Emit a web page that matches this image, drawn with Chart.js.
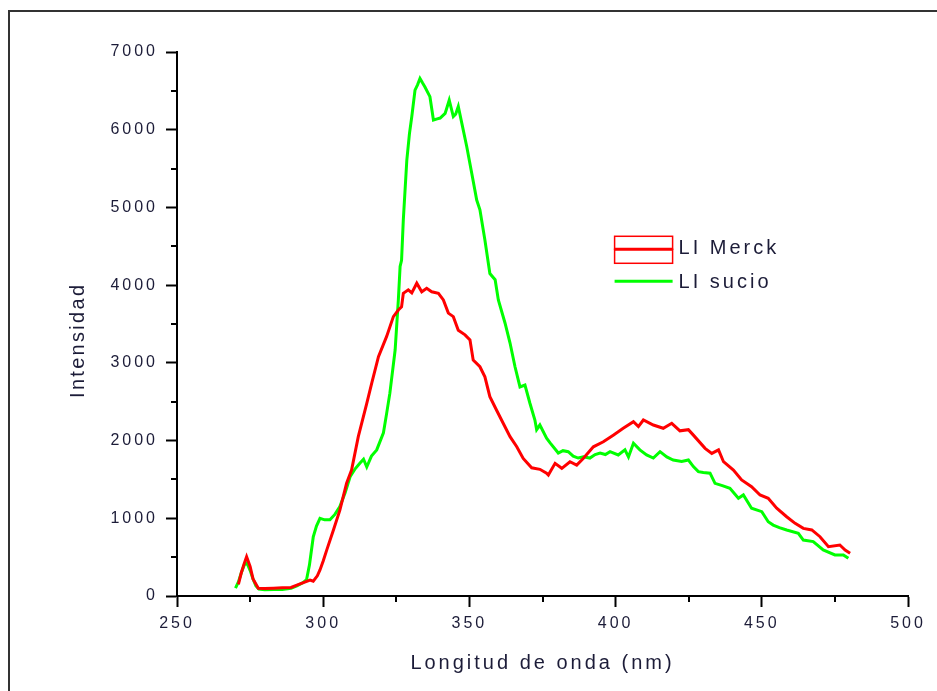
<!DOCTYPE html>
<html>
<head>
<meta charset="utf-8">
<script src="https://cdn.jsdelivr.net/npm/chart.js@4.4.1/dist/chart.umd.min.js"></script>
<style>
  html, body { margin: 0; padding: 0; background: #fff; }
  #wrap { position: relative; width: 937px; height: 691px; }
</style>
</head>
<body>
<div id="wrap"><canvas id="c" width="937" height="691"></canvas></div>
<script>
// ---- data ----
const seriesLabels = ["LI Merck", "LI sucio"];
const xTickValues = [250, 300, 350, 400, 450, 500];
const yTickValues = [0, 1000, 2000, 3000, 4000, 5000, 6000, 7000];

const merckWavelength = [271, 272, 273, 273.8, 275, 276, 277.8, 280, 283, 286, 289, 291, 293, 295.5, 296.6, 298, 298.9, 300, 301.2, 303.5, 305.7, 308, 309.7, 312, 314.9, 316.6, 318.9, 321.7, 324, 325.7, 326.8, 327.4, 329.1, 330.3, 332, 333.7, 335.4, 337.1, 339.4, 341.1, 342.8, 344.5, 346.2, 348.5, 350.2, 351.3, 353.6, 355.3, 357, 359.3, 361.6, 363.9, 366.2, 368.4, 371.3, 374.1, 376.4, 377, 379.3, 381.6, 384.4, 386.7, 389, 392.4, 395.8, 399.2, 402.6, 406.1, 407.8, 409.5, 412.9, 416.3, 419.2, 422, 424.9, 426.6, 430.6, 432.9, 435.2, 436.9, 440.3, 443.1, 446.5, 449.4, 452.2, 455.1, 458.5, 461.4, 464.2, 467.1, 469.9, 472.8, 476.7, 478.5, 480.2];
const merckIntensity = [150, 300, 420, 506, 380, 220, 100, 95, 100, 105, 110, 140, 170, 206, 190, 260, 335, 450, 590, 850, 1105, 1450, 1620, 2050, 2480, 2740, 3080, 3340, 3595, 3680, 3720, 3895, 3940, 3900, 4025, 3915, 3960, 3915, 3895, 3810, 3640, 3595, 3420, 3360, 3295, 3035, 2950, 2820, 2565, 2390, 2220, 2050, 1920, 1770, 1650, 1630, 1580, 1557, 1707, 1643, 1728, 1685, 1772, 1920, 1985, 2070, 2158, 2243, 2180, 2265, 2200, 2158, 2222, 2125, 2140, 2070, 1900, 1835, 1880, 1728, 1620, 1493, 1406, 1300, 1257, 1130, 1020, 935, 870, 850, 763, 635, 656, 592, 550];

const sucioWavelength = [270, 271, 272, 273, 273.9, 275, 276, 277, 278, 280, 283, 286, 289, 291, 293, 294.3, 295.3, 296.6, 297.7, 298.9, 300.5, 302.3, 304, 305.7, 307.5, 309.2, 311, 312.6, 313.8, 314.9, 316.5, 318.3, 320.6, 321.7, 322.8, 324.6, 325.7, 326.3, 326.8, 327.4, 328.6, 329.5, 330.3, 331.4, 332.3, 333.1, 334, 334.8, 336.5, 337.7, 339, 340, 341.7, 343.1, 344.5, 345.3, 346.2, 347.4, 349.1, 350.8, 352.5, 353.6, 355.3, 357, 358.8, 359.9, 362.2, 363.9, 365.6, 367.3, 369, 370.7, 372.4, 373, 374.1, 376.4, 377.6, 380.4, 382, 383.8, 385.5, 387.2, 389, 391.2, 393, 394.7, 396.5, 398.1, 400.9, 403.2, 404.4, 406.1, 408.3, 410.6, 412.9, 415.2, 417.5, 419.7, 422.6, 424.9, 426.6, 428.3, 430, 432.3, 434, 436.5, 439.1, 442, 443.7, 446.5, 450, 452.2, 453.9, 456, 458.5, 462.5, 464.2, 467.6, 471, 475, 477.9, 479.6];
const sucioIntensity = [100, 180, 300, 400, 425, 330, 220, 130, 90, 80, 85, 85, 100, 130, 170, 210, 400, 760, 900, 1000, 980, 980, 1050, 1150, 1330, 1535, 1640, 1710, 1760, 1660, 1800, 1880, 2100, 2350, 2610, 3165, 3810, 4240, 4320, 4840, 5610, 5950, 6170, 6510, 6580, 6660, 6600, 6550, 6425, 6125, 6140, 6150, 6210, 6380, 6170, 6200, 6300, 6085, 5780, 5440, 5095, 4970, 4580, 4150, 4070, 3810, 3510, 3255, 2950, 2690, 2715, 2480, 2265, 2140, 2200, 2030, 1970, 1840, 1870, 1857, 1800, 1775, 1790, 1775, 1820, 1840, 1820, 1857, 1815, 1880, 1790, 1965, 1880, 1815, 1775, 1857, 1790, 1750, 1730, 1750, 1665, 1600, 1590, 1580, 1450, 1420, 1385, 1257, 1300, 1130, 1085, 955, 913, 880, 850, 807, 720, 700, 592, 528, 528, 485];

const xTitle = "Longitud de onda (nm)";
const yTitle = "Intensidad";

// ---- build chart ----
const toPoints = (xs, ys) => xs.map((x, i) => ({ x: x, y: ys[i] }));
const TEXT = '#1c1c38';
const FONT = 'Liberation Sans, Arial, sans-serif';

const framePlugin = {
  id: 'frameAndExtras',
  beforeDraw(chart) {
    const ctx = chart.ctx;
    ctx.save();
    ctx.fillStyle = '#fff';
    ctx.fillRect(0, 0, chart.width, chart.height);
    ctx.strokeStyle = '#333';
    ctx.lineWidth = 2;
    ctx.beginPath();
    ctx.moveTo(9, chart.height + 5);
    ctx.lineTo(9, 11);
    ctx.lineTo(chart.width + 5, 11);
    ctx.stroke();
    ctx.restore();
    ctx.letterSpacing = '3px';
  },
  afterDraw(chart) {
    const ctx = chart.ctx;
    const xs = chart.scales.x, ys = chart.scales.y;
    const area = chart.chartArea;
    ctx.save();
    // minor ticks
    ctx.strokeStyle = '#000';
    ctx.lineWidth = 2;
    ctx.beginPath();
    for (let v = 500; v < 7000; v += 1000) {
      const p = Math.round(ys.getPixelForValue(v));
      ctx.moveTo(area.left - 6, p); ctx.lineTo(area.left, p);
    }
    for (let v = 275; v < 500; v += 50) {
      const p = Math.round(xs.getPixelForValue(v));
      ctx.moveTo(p, area.bottom); ctx.lineTo(p, area.bottom + 6);
    }
    ctx.stroke();
    // y title
    ctx.letterSpacing = '2.3px';
    ctx.fillStyle = TEXT;
    ctx.font = '20px ' + FONT;
    ctx.translate(78, area.top + (area.bottom - area.top) * 0.53);
    ctx.rotate(-Math.PI / 2);
    ctx.textAlign = 'center';
    ctx.textBaseline = 'middle';
    ctx.fillText(yTitle, 0, 0);
    ctx.restore();

    // legend
    ctx.save();
    ctx.letterSpacing = '3px';
    ctx.font = '20px ' + FONT;
    ctx.fillStyle = TEXT;
    ctx.textBaseline = 'middle';
    const lx = xs.getPixelForValue(400) - 1, lw = 58;
    const ly0 = ys.getPixelForValue(4500) + 3;
    const dsM = chart.data.datasets[0], dsS = chart.data.datasets[1];
    ctx.strokeStyle = dsM.borderColor;
    ctx.lineWidth = 1.5;
    ctx.strokeRect(lx, ly0 - 13, lw, 13);
    ctx.strokeRect(lx, ly0, lw, 14);
    ctx.lineWidth = 3;
    ctx.beginPath(); ctx.moveTo(lx, ly0); ctx.lineTo(lx + lw, ly0); ctx.stroke();
    ctx.fillText(dsM.label, lx + lw + 6, ly0 - 1);
    const ly1 = ly0 + 32;
    ctx.strokeStyle = dsS.borderColor;
    ctx.lineWidth = 3;
    ctx.beginPath(); ctx.moveTo(lx, ly1); ctx.lineTo(lx + lw, ly1); ctx.stroke();
    ctx.fillText(dsS.label, lx + lw + 6, ly1 + 1);
    ctx.restore();
  }
};

new Chart(document.getElementById('c'), {
  type: 'line',
  data: {
    datasets: [
      { label: seriesLabels[0], data: toPoints(merckWavelength, merckIntensity), borderColor: '#ff0000', borderWidth: 3, pointRadius: 0, tension: 0, fill: false },
      { label: seriesLabels[1], data: toPoints(sucioWavelength, sucioIntensity), borderColor: '#00ff00', borderWidth: 3, pointRadius: 0, tension: 0, fill: false }
    ]
  },
  options: {
    responsive: false,
    animation: false,
    events: [],
    layout: { padding: { left: 0, top: 52, right: 29, bottom: 0 } },
    plugins: { legend: { display: false }, tooltip: { enabled: false } },
    scales: {
      x: {
        type: 'linear', min: 250, max: 500,
        afterBuildTicks: (s) => { s.ticks = xTickValues.map(v => ({ value: v })); },
        afterFit: (s) => { s.height = 95; },
        border: { display: true, color: '#000', width: 2 },
        grid: { drawOnChartArea: false, drawTicks: true, tickLength: 11, tickWidth: 2, tickColor: '#000' },
        ticks: { color: TEXT, font: { family: FONT, size: 16 }, padding: 7, maxRotation: 0, callback: (v) => String(v) },
        title: { display: true, text: xTitle, color: TEXT, font: { family: FONT, size: 20 }, padding: { top: 0, bottom: 16 } }
      },
      y: {
        type: 'linear', min: 0, max: 7000,
        afterBuildTicks: (s) => { s.ticks = yTickValues.map(v => ({ value: v })); },
        afterFit: (s) => { s.width = 177; },
        border: { display: true, color: '#000', width: 2 },
        grid: { drawOnChartArea: false, drawTicks: true, tickLength: 11, tickWidth: 2, tickColor: '#000' },
        ticks: { color: TEXT, font: { family: FONT, size: 16 }, padding: 8, callback: (v) => String(v) }
      }
    }
  },
  plugins: [framePlugin]
});
</script>
</body>
</html>
